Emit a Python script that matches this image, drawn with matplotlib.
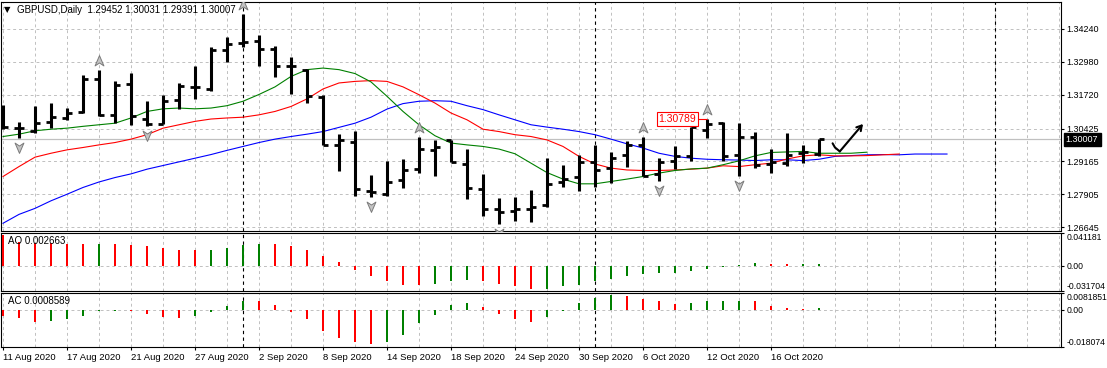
import numpy as np
import matplotlib
matplotlib.use("Agg")
import matplotlib.pyplot as plt
from matplotlib.path import Path
from matplotlib import transforms as mtransforms

plt.rcParams['font.family'] = ['Liberation Sans', 'DejaVu Sans']
plt.rcParams['font.size'] = 7

# ---- data (GBPUSD daily, 11 Aug - 21 Oct 2020) ----
title_text = "GBPUSD,Daily  1.29452 1.30031 1.29391 1.30007"

opens = [1.30900, 1.30455, 1.30340, 1.30660, 1.30826, 1.31043, 1.32335, 1.30928, 1.32130, 1.30788,
         1.30609, 1.31504, 1.32015, 1.31951, 1.33422, 1.33703, 1.33767, 1.33486, 1.32808, 1.32655,
         1.31632, 1.29803, 1.29893, 1.28052, 1.27911, 1.28461, 1.28883, 1.29611, 1.29969, 1.29074,
         1.28116, 1.27348, 1.27259, 1.27348, 1.27502, 1.28397, 1.28589, 1.29126, 1.28908, 1.29420,
         1.29778, 1.28691, 1.29190, 1.29356, 1.30379, 1.30634, 1.29394, 1.30085, 1.29074, 1.29100,
         1.29484, 1.29452]
highs = [1.31338, 1.30660, 1.31274, 1.31402, 1.31210, 1.32488, 1.32680, 1.32258, 1.32552, 1.31491,
         1.31721, 1.32169, 1.32834, 1.33550, 1.33933, 1.34828, 1.34023, 1.33575, 1.33166, 1.32706,
         1.31721, 1.30212, 1.30315, 1.28653, 1.29190, 1.29253, 1.30085, 1.29995, 1.29995, 1.29650,
         1.28691, 1.27757, 1.27796, 1.28077, 1.29317, 1.29036, 1.29420, 1.29803, 1.29522, 1.29931,
         1.30085, 1.29292, 1.29739, 1.30481, 1.30789, 1.30660, 1.30634, 1.30276, 1.29637, 1.30251,
         1.29778, 1.30031]
lows = [1.30404, 1.30059, 1.30251, 1.30443, 1.30762, 1.31018, 1.30890, 1.30634, 1.30570, 1.30506,
        1.30609, 1.31171, 1.31568, 1.31875, 1.32974, 1.33550, 1.32808, 1.32399, 1.31747, 1.31402,
        1.29778, 1.28819, 1.27860, 1.27820, 1.27850, 1.28141, 1.28742, 1.28627, 1.29138, 1.27732,
        1.27093, 1.26760, 1.26901, 1.26862, 1.27438, 1.28205, 1.28052, 1.28205, 1.28333, 1.28972,
        1.28627, 1.28435, 1.28883, 1.29202, 1.30059, 1.29202, 1.28627, 1.28908, 1.28716, 1.28998,
        1.29100, 1.29391]
closes = [1.30468, 1.30430, 1.30622, 1.30852, 1.31018, 1.32335, 1.30928, 1.32105, 1.30890, 1.30609,
          1.31465, 1.32041, 1.32002, 1.33447, 1.33665, 1.33741, 1.33486, 1.32808, 1.32808, 1.31657,
          1.29803, 1.29969, 1.28103, 1.27988, 1.28397, 1.28844, 1.29650, 1.29714, 1.29138, 1.28167,
          1.27348, 1.27246, 1.27348, 1.27412, 1.28295, 1.28499, 1.29126, 1.28844, 1.29292, 1.29778,
          1.28627, 1.29126, 1.29356, 1.30481, 1.30609, 1.29356, 1.30085, 1.29036, 1.29126, 1.29420,
          1.29509, 1.30007]

# alligator (already shifted forward: jaw +8, teeth +5, lips +3)
jaw = [1.2680, 1.2714, 1.2737, 1.2766, 1.2791, 1.2817, 1.2838, 1.2855, 1.2869, 1.2887,
       1.2901, 1.2915, 1.2929, 1.2943, 1.2959, 1.2974, 1.2989, 1.3002, 1.3012, 1.3021,
       1.3031, 1.3047, 1.3063, 1.3086, 1.3117, 1.3138, 1.3147, 1.3149, 1.3147, 1.3130,
       1.3115, 1.3095, 1.3076, 1.3057, 1.3048, 1.3040, 1.3031, 1.3019, 1.3002, 1.2984,
       1.2968, 1.2948, 1.2936, 1.2929, 1.2925, 1.2923, 1.2922, 1.2920, 1.2923, 1.2923,
       1.2920, 1.2925, 1.2936, 1.2939, 1.2942, 1.2943, 1.2942, 1.2945, 1.2945, 1.2945]
teeth = [1.2859, 1.2897, 1.2933, 1.2948, 1.2961, 1.2970, 1.2980, 1.2989, 1.3002, 1.3019,
         1.3044, 1.3057, 1.3070, 1.3079, 1.3083, 1.3086, 1.3095, 1.3108, 1.3127, 1.3156,
         1.3194, 1.3217, 1.3223, 1.3226, 1.3223, 1.3202, 1.3172, 1.3140, 1.3102, 1.3076,
         1.3040, 1.3031, 1.3019, 1.3012, 1.2999, 1.2974, 1.2936, 1.2907, 1.2891, 1.2884,
         1.2882, 1.2882, 1.2884, 1.2887, 1.2891, 1.2900, 1.2897, 1.2904, 1.2910, 1.2926,
         1.2938, 1.2942, 1.2938, 1.2938, 1.2939, 1.2942, 1.2945]
lips = [1.3012, 1.3021, 1.3034, 1.3040, 1.3044, 1.3051, 1.3057, 1.3063, 1.3083, 1.3108,
        1.3118, 1.3121, 1.3118, 1.3121, 1.3130, 1.3147, 1.3173, 1.3202, 1.3242, 1.3268,
        1.3274, 1.3268, 1.3253, 1.3221, 1.3166, 1.3108, 1.3057, 1.3015, 1.2987, 1.2980,
        1.2974, 1.2964, 1.2946, 1.2910, 1.2874, 1.2849, 1.2831, 1.2831, 1.2840, 1.2849,
        1.2859, 1.2872, 1.2882, 1.2888, 1.2891, 1.2904, 1.2919, 1.2938, 1.2951, 1.2953,
        1.2955, 1.2948, 1.2948, 1.2948, 1.2952]

ao = [0.0389, 0.0293, 0.0291, 0.0285, 0.0277, 0.0274, 0.0277, 0.0275, 0.0264, 0.0251,
      0.0226, 0.0203, 0.0200, 0.0203, 0.0226, 0.0264, 0.0278, 0.0276, 0.0251, 0.0201,
      0.0126, 0.0050, -0.0050, -0.0134, -0.0197, -0.0237, -0.0241, -0.0226, -0.0197, -0.0184,
      -0.0197, -0.0226, -0.0251, -0.0292, -0.0289, -0.0260, -0.0239, -0.0197, -0.0163, -0.0126,
      -0.0109, -0.0096, -0.0088, -0.0063, -0.0046, -0.0021, 0.0013, 0.0029, 0.0027, 0.0017,
      0.0019, 0.002663]
ac = [-0.0028, -0.0041, -0.0057, -0.0052, -0.0047, -0.0028, -0.0008, -0.0006, -0.0008, -0.0018,
      -0.0037, -0.0038, -0.0028, -0.0011, 0.0019, 0.0042, 0.0041, 0.0024, -0.0011, -0.0047,
      -0.0101, -0.0135, -0.0154, -0.0165, -0.0154, -0.0122, -0.0066, -0.0023, 0.0024, 0.0034,
      0.0015, -0.0018, -0.0044, -0.0057, -0.0037, -0.0004, 0.0034, 0.0058, 0.0070, 0.0066,
      0.0053, 0.0041, 0.0029, 0.0034, 0.0041, 0.0042, 0.0045, 0.0041, 0.0021, 0.0010,
      0.0005, 0.0008589]

fractal_up = [6, 15, 26, 40, 44]
fractal_dn = [1, 9, 23, 31, 41, 46]

date_labels = ["11 Aug 2020", "17 Aug 2020", "21 Aug 2020", "27 Aug 2020", "2 Sep 2020",
               "8 Sep 2020", "14 Sep 2020", "18 Sep 2020", "24 Sep 2020", "30 Sep 2020",
               "6 Oct 2020", "12 Oct 2020", "16 Oct 2020"]
price_ticks = [1.34240, 1.32980, 1.31720, 1.30425, 1.29165, 1.27905, 1.26645]
ao_ticks = [0.041181, 0.0, -0.031704]
ac_ticks = [0.0081851, 0.0, -0.018074]
separators = [15, 37, 62]          # month starts (bar index)
high_bar = 44                      # bar carrying the 1.30789 label
sketch_x = [51.85, 52.0, 52.3, 53.75]
sketch_y = [1.2986, 1.2970, 1.2955, 1.3060]

# ---- layout in pixels ----
W, H = 1107, 368
fig = plt.figure(figsize=(W / 100, H / 100), dpi=100)
fig.patch.set_facecolor('white')


def box(top, bottom, left=1, right=1061):
    return [left / W, 1 - bottom / H, (right - left) / W, (bottom - top) / H]


ax = fig.add_axes(box(1.5, 231))
ax_ao = fig.add_axes(box(233, 291), sharex=ax)
ax_ac = fig.add_axes(box(293, 347), sharex=ax)

x = np.arange(len(closes))
grid_kw = dict(color='#c0c0c0', lw=0.7, ls=(0, (3, 3)))

for a in (ax, ax_ao, ax_ac):
    a.set_axisbelow(True)
    for s in a.spines.values():
        s.set_color('black')
        s.set_linewidth(0.8)
    a.set_xticks(np.arange(0, 67, 2), minor=True)
    a.grid(True, which='both', axis='x', **grid_kw)
    for sep in separators:
        a.axvline(sep, color='black', lw=0.8, ls=(0, (3, 3)), zorder=1)
    a.yaxis.tick_right()
    a.tick_params(axis='y', direction='out', length=2, pad=1.8, labelsize=6.5, colors='black')
    a.tick_params(axis='x', which='minor', length=0)

ax.set_xlim(-0.125, 66.125)
ax.set_xticks(np.arange(0, 52, 4))

# ---- main price panel ----
ax.set_ylim(1.26504, 1.35288)
ax.set_yticks(price_ticks)
ax.set_yticklabels([f"{v:.5f}" for v in price_ticks])
ax.grid(True, which='major', axis='y', **grid_kw)
ax.tick_params(axis='x', which='both', length=0, labelbottom=False)

ax.axhline(closes[-1], color='#c0c0c0', lw=0.9, zorder=1)

ax.plot(np.arange(len(jaw)), jaw, color='#0000ff', lw=0.8, zorder=2)
ax.plot(np.arange(len(teeth)), teeth, color='#ff0000', lw=0.8, zorder=2)
ax.plot(np.arange(len(lips)), lips, color='#008000', lw=0.8, zorder=2)

ax.vlines(x, lows, highs, color='black', lw=2.2, capstyle='butt', zorder=3)
ax.hlines(opens, x - 0.32, x, color='black', lw=2.0, capstyle='butt', zorder=3)
ax.hlines(closes, x, x + 0.32, color='black', lw=2.0, capstyle='butt', zorder=3)

# fractal arrows
up_path = Path([(0, 1), (0.75, -0.75), (0, -0.25), (-0.75, -0.75), (0, 1)],
               [Path.MOVETO, Path.LINETO, Path.LINETO, Path.LINETO, Path.CLOSEPOLY])
dn_path = Path([(0, -1), (0.75, 0.75), (0, 0.25), (-0.75, 0.75), (0, -1)],
               [Path.MOVETO, Path.LINETO, Path.LINETO, Path.LINETO, Path.CLOSEPOLY])
up_tr = mtransforms.offset_copy(ax.transData, fig=fig, y=9, units='dots')
dn_tr = mtransforms.offset_copy(ax.transData, fig=fig, y=-9, units='dots')
ax.plot(fractal_up, [highs[i] for i in fractal_up], ls='none', marker=up_path, ms=8.5,
        mfc='#c4c4c4', mec='#7a7a7a', mew=0.7, transform=up_tr, zorder=4)
ax.plot(fractal_dn, [lows[i] for i in fractal_dn], ls='none', marker=dn_path, ms=8.5,
        mfc='#c4c4c4', mec='#7a7a7a', mew=0.7, transform=dn_tr, zorder=4)

# high price label
ax.hlines(highs[high_bar], high_bar - 0.56, high_bar, color='red', lw=0.8, zorder=4)
ax.text(high_bar - 0.66, highs[high_bar], f"{highs[high_bar]:.5f}", color='red', fontsize=7.5,
        ha='right', va='center', zorder=5,
        bbox=dict(boxstyle='square,pad=0.15', fc='white', ec='red', lw=0.8))

# current price tag on the axis
tag_tr = mtransforms.blended_transform_factory(ax.transAxes, ax.transData)
ax.text(1.0045, closes[-1], f"{closes[-1]:.5f}", transform=tag_tr, color='white', fontsize=6.5,
        ha='left', va='center', clip_on=False, zorder=6,
        bbox=dict(boxstyle='square,pad=0.25', fc='black', ec='black'))

# hand drawn arrow
ax.plot(sketch_x[:3], sketch_y[:3], color='black', lw=1.5, solid_capstyle='round', zorder=5)
ax.annotate('', xy=(sketch_x[3], sketch_y[3]), xytext=(sketch_x[2], sketch_y[2]),
            arrowprops=dict(arrowstyle='->,head_length=0.5,head_width=0.3', lw=1.5,
                            color='black', shrinkA=0, shrinkB=0), zorder=5)

fig.text(4 / W, 1 - 10 / H, "\u25bc", fontsize=6, va='center', ha='left',
         family=['DejaVu Sans'])
fig.text(17 / W, 1 - 10 / H, title_text, fontsize=7, va='center', ha='left')

# ---- AO / AC panels ----
for a, vals, ticks, name in ((ax_ao, ao, ao_ticks, "AO"), (ax_ac, ac, ac_ticks, "AC")):
    vals = np.array(vals)
    up = np.r_[False, np.diff(vals) > 0]
    colors = np.where(up, '#008000', '#ff0000')
    a.bar(x, vals, width=0.15, color=colors, zorder=3)
    a.axhline(0, **grid_kw, zorder=0)
    a.set_ylim(ticks[2], ticks[0])
    a.set_yticks(ticks)
    a.set_yticklabels([f"{ticks[0]:g}", "0.00", f"{ticks[2]:g}"])
    a.tick_params(axis='y', labelsize=6.2)
    labs = a.get_yticklabels()
    labs[0].set_va('top')
    labs[-1].set_va('bottom')
    a.text(0.0066, 0.86, f"{name} {vals[-1]:g}", transform=a.transAxes, fontsize=7,
           va='center', ha='left', zorder=6)

ax_ao.tick_params(axis='x', which='both', length=0, labelbottom=False)
ax_ac.set_xticklabels(date_labels)
ax_ac.tick_params(axis='x', which='major', direction='out', length=2.5, pad=1.5, labelsize=6.8)
for lbl in ax_ac.get_xticklabels():
    lbl.set_ha('left')

fig.savefig("out.png", dpi=100)
